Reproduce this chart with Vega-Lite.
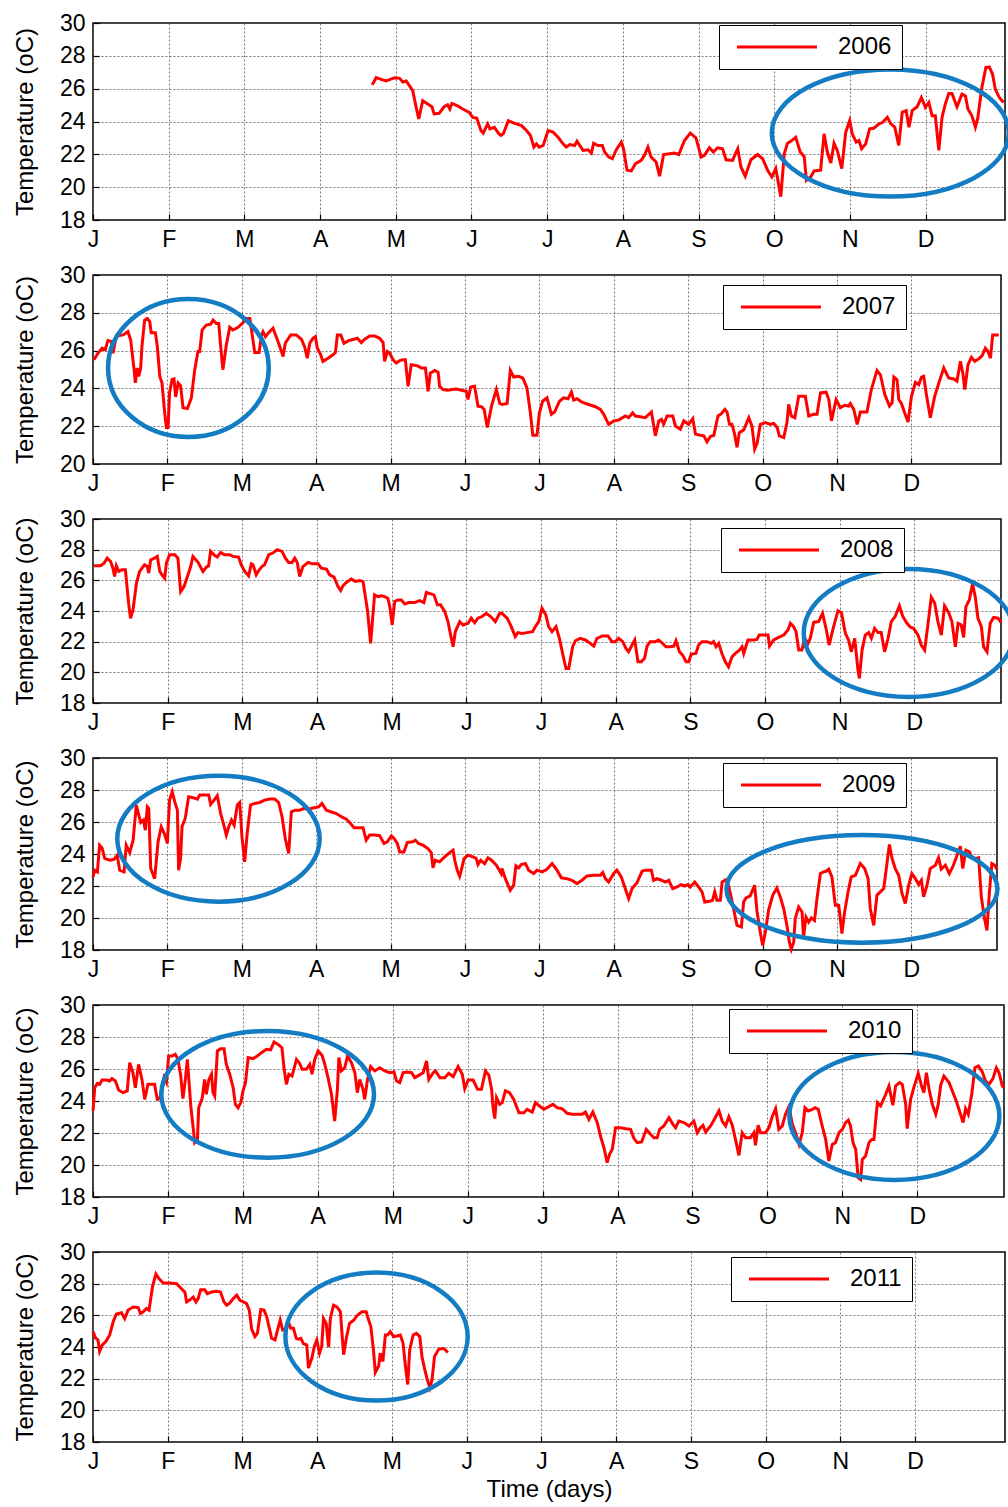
{
"$schema": "https://vega.github.io/schema/vega-lite/v6.json",
"padding": {"left": 12, "top": 11, "right": 0, "bottom": 0},
"background": "white",
"config": {
  "font": "Liberation Sans",
  "view": {"stroke": "black", "strokeWidth": 1.5},
  "axis": {"grid": true, "gridColor": "#555", "gridDash": [2, 2], "gridWidth": 0.8, "domain": false, "tickColor": "black", "tickSize": -6, "tickWidth": 1.2, "labelColor": "black", "labelFont": "Liberation Sans", "labelFontSize": 23, "titleFont": "Liberation Sans", "titleFontSize": 24, "titleFontWeight": "normal", "titleColor": "black", "labelOverlap": false, "labelBound": false, "labelFlush": false},
  "axisX": {"labelPadding": 14},
  "axisY": {"labelPadding": 14, "titlePadding": 22},
  "legend": {"symbolType": "M-4,0H4", "symbolSize": 400, "symbolStrokeWidth": 3, "labelFont": "Liberation Sans", "labelFontSize": 24, "labelColor": "black", "padding": 10, "strokeColor": "black", "fillColor": "white", "symbolOffset": 36, "labelOffset": 49, "title": null}
},
"datasets": {
"d2006": [{"day":112.2,"temp":26.23},{"day":113.8,"temp":26.67},{"day":115.8,"temp":26.57},{"day":117.8,"temp":26.47},{"day":121.2,"temp":26.67},{"day":123.2,"temp":26.63},{"day":124.5,"temp":26.41},{"day":125.9,"temp":26.47},{"day":127.2,"temp":26.17},{"day":128.5,"temp":25.87},{"day":129.6,"temp":25.06},{"day":130.9,"temp":24.15},{"day":132.5,"temp":25.26},{"day":134.5,"temp":25.06},{"day":136.2,"temp":24.9},{"day":137.1,"temp":24.46},{"day":139.1,"temp":24.5},{"day":141.1,"temp":24.9},{"day":142.5,"temp":25.02},{"day":143.4,"temp":24.76},{"day":144.2,"temp":25.1},{"day":146.5,"temp":24.96},{"day":148.6,"temp":24.76},{"day":151.2,"temp":24.56},{"day":152.6,"temp":24.25},{"day":154.2,"temp":24.21},{"day":155.9,"temp":23.45},{"day":156.8,"temp":23.29},{"day":158.6,"temp":23.85},{"day":159.5,"temp":23.55},{"day":161.3,"temp":23.65},{"day":162.9,"temp":23.29},{"day":163.9,"temp":23.15},{"day":164.9,"temp":23.25},{"day":166.9,"temp":24.05},{"day":169.5,"temp":23.89},{"day":172.2,"temp":23.75},{"day":174.2,"temp":23.45},{"day":175.8,"temp":23.15},{"day":177.2,"temp":22.44},{"day":178.2,"temp":22.64},{"day":179.3,"temp":22.44},{"day":180.9,"temp":22.54},{"day":182.9,"temp":23.45},{"day":184.9,"temp":23.35},{"day":186.9,"temp":23.04},{"day":188.9,"temp":22.64},{"day":190.2,"temp":22.44},{"day":191.6,"temp":22.6},{"day":193.6,"temp":22.54},{"day":194.5,"temp":22.8},{"day":196.9,"temp":22.24},{"day":198.9,"temp":22.28},{"day":200.3,"temp":22.08},{"day":201.2,"temp":22.68},{"day":202.9,"temp":22.54},{"day":204.7,"temp":22.54},{"day":205.6,"temp":22.14},{"day":207.3,"temp":21.83},{"day":208.7,"temp":21.73},{"day":210.3,"temp":22.28},{"day":212.3,"temp":22.74},{"day":213.2,"temp":22.34},{"day":214.6,"temp":21.03},{"day":216.3,"temp":20.99},{"day":218.0,"temp":21.43},{"day":220.3,"temp":21.63},{"day":221.6,"temp":21.94},{"day":223.0,"temp":22.44},{"day":224.3,"temp":21.83},{"day":226.3,"temp":21.53},{"day":227.7,"temp":20.67},{"day":229.3,"temp":21.99},{"day":231.7,"temp":22.04},{"day":233.7,"temp":22.08},{"day":235.4,"temp":21.99},{"day":237.7,"temp":22.84},{"day":240.0,"temp":23.29},{"day":242.3,"temp":23.0},{"day":244.4,"temp":21.83},{"day":245.7,"temp":21.94},{"day":247.7,"temp":22.4},{"day":249.3,"temp":22.14},{"day":251.0,"temp":22.4},{"day":253.0,"temp":22.34},{"day":254.4,"temp":21.67},{"day":257.0,"temp":21.63},{"day":259.1,"temp":22.34},{"day":260.4,"temp":21.23},{"day":262.1,"temp":20.67},{"day":264.4,"temp":21.67},{"day":267.1,"temp":21.99},{"day":269.1,"temp":21.73},{"day":271.1,"temp":21.03},{"day":272.8,"temp":20.62},{"day":274.4,"temp":21.13},{"day":276.4,"temp":19.42},{"day":277.8,"temp":22.04},{"day":279.1,"temp":22.68},{"day":280.8,"temp":22.84},{"day":282.4,"temp":23.04},{"day":284.2,"temp":22.14},{"day":285.8,"temp":21.87},{"day":286.7,"temp":20.42},{"day":288.4,"temp":20.62},{"day":289.8,"temp":20.99},{"day":292.4,"temp":21.03},{"day":293.8,"temp":23.25},{"day":295.1,"temp":22.14},{"day":296.5,"temp":21.47},{"day":297.8,"temp":22.68},{"day":299.1,"temp":22.24},{"day":300.9,"temp":21.13},{"day":302.5,"temp":23.35},{"day":304.1,"temp":24.05},{"day":305.1,"temp":23.25},{"day":306.7,"temp":22.74},{"day":307.8,"temp":22.84},{"day":308.9,"temp":22.34},{"day":310.5,"temp":22.64},{"day":312.1,"temp":23.55},{"day":313.8,"temp":23.59},{"day":315.8,"temp":23.85},{"day":317.4,"temp":23.95},{"day":319.2,"temp":24.25},{"day":320.5,"temp":23.89},{"day":322.2,"temp":23.65},{"day":323.8,"temp":22.54},{"day":325.2,"temp":24.56},{"day":326.8,"temp":24.66},{"day":327.9,"temp":23.65},{"day":329.2,"temp":24.66},{"day":331.2,"temp":24.9},{"day":332.9,"temp":25.46},{"day":334.5,"temp":24.86},{"day":335.9,"temp":25.16},{"day":337.2,"temp":24.35},{"day":338.5,"temp":24.35},{"day":339.9,"temp":22.24},{"day":341.2,"temp":24.25},{"day":342.5,"temp":25.06},{"day":343.9,"temp":25.71},{"day":345.2,"temp":25.71},{"day":347.2,"temp":24.9},{"day":349.2,"temp":25.67},{"day":350.6,"temp":25.56},{"day":351.6,"temp":24.76},{"day":353.2,"temp":24.35},{"day":354.6,"temp":23.65},{"day":355.6,"temp":24.25},{"day":357.2,"temp":26.07},{"day":358.8,"temp":27.28},{"day":360.2,"temp":27.32},{"day":361.5,"temp":26.88},{"day":362.6,"temp":25.97},{"day":364.2,"temp":25.46},{"day":365.9,"temp":25.16}],
"d2007": [{"day":0.4,"temp":25.51},{"day":2.0,"temp":25.86},{"day":3.7,"temp":26.13},{"day":5.0,"temp":26.04},{"day":6.1,"temp":26.53},{"day":7.5,"temp":26.48},{"day":8.2,"temp":25.86},{"day":9.5,"temp":26.77},{"day":12.3,"temp":26.83},{"day":14.3,"temp":27.0},{"day":15.4,"temp":26.56},{"day":16.8,"temp":24.99},{"day":17.3,"temp":24.29},{"day":18.1,"temp":25.08},{"day":18.7,"temp":24.64},{"day":19.5,"temp":25.08},{"day":20.0,"temp":26.21},{"day":21.1,"temp":27.61},{"day":22.2,"temp":27.7},{"day":23.2,"temp":27.53},{"day":23.8,"temp":26.95},{"day":25.5,"temp":26.95},{"day":26.3,"temp":26.21},{"day":27.3,"temp":24.64},{"day":28.2,"temp":24.29},{"day":29.3,"temp":22.71},{"day":30.0,"temp":21.93},{"day":30.7,"temp":21.93},{"day":31.3,"temp":23.77},{"day":32.3,"temp":24.46},{"day":33.1,"temp":24.5},{"day":33.8,"temp":23.55},{"day":34.8,"temp":24.29},{"day":35.8,"temp":24.15},{"day":36.8,"temp":22.98},{"day":38.6,"temp":22.93},{"day":40.2,"temp":23.5},{"day":41.6,"temp":24.99},{"day":42.9,"temp":25.95},{"day":43.6,"temp":25.95},{"day":44.6,"temp":27.09},{"day":46.3,"temp":27.35},{"day":48.1,"temp":27.4},{"day":49.1,"temp":27.61},{"day":50.4,"temp":27.44},{"day":51.4,"temp":27.44},{"day":52.2,"temp":26.21},{"day":53.1,"temp":24.99},{"day":54.5,"temp":26.3},{"day":55.9,"temp":27.23},{"day":57.2,"temp":27.09},{"day":59.3,"temp":27.23},{"day":61.3,"temp":27.47},{"day":62.7,"temp":27.7},{"day":64.1,"temp":27.7},{"day":65.1,"temp":26.83},{"day":66.1,"temp":25.9},{"day":67.9,"temp":25.9},{"day":68.8,"temp":26.77},{"day":69.5,"temp":27.0},{"day":70.5,"temp":26.74},{"day":71.8,"temp":26.95},{"day":73.6,"temp":27.18},{"day":75.4,"temp":26.56},{"day":76.8,"temp":26.04},{"day":77.7,"temp":25.69},{"day":78.6,"temp":26.39},{"day":80.8,"temp":26.83},{"day":83.1,"temp":26.83},{"day":85.2,"temp":26.6},{"day":86.5,"temp":26.21},{"day":87.6,"temp":25.6},{"day":88.6,"temp":26.39},{"day":89.9,"temp":26.65},{"day":90.9,"temp":26.74},{"day":91.7,"temp":26.13},{"day":93.1,"temp":25.78},{"day":94.0,"temp":25.43},{"day":96.1,"temp":25.6},{"day":98.1,"temp":25.78},{"day":99.1,"temp":25.9},{"day":99.9,"temp":26.83},{"day":101.3,"temp":26.83},{"day":102.6,"temp":26.39},{"day":104.5,"temp":26.53},{"day":106.7,"temp":26.6},{"day":108.1,"temp":26.65},{"day":109.7,"temp":26.42},{"day":111.1,"temp":26.6},{"day":113.1,"temp":26.77},{"day":115.2,"temp":26.77},{"day":117.2,"temp":26.65},{"day":118.6,"temp":26.42},{"day":119.2,"temp":25.43},{"day":120.3,"temp":25.95},{"day":121.3,"temp":25.86},{"day":122.7,"temp":25.51},{"day":124.0,"temp":25.34},{"day":125.4,"temp":25.47},{"day":126.7,"temp":25.51},{"day":127.7,"temp":25.51},{"day":128.8,"temp":24.11},{"day":130.1,"temp":25.25},{"day":132.6,"temp":25.2},{"day":134.2,"temp":25.08},{"day":135.9,"temp":25.08},{"day":137.0,"temp":23.85},{"day":137.9,"temp":24.81},{"day":139.7,"temp":24.95},{"day":141.1,"temp":24.85},{"day":141.7,"temp":24.11},{"day":143.1,"temp":23.94},{"day":145.1,"temp":23.9},{"day":146.8,"temp":23.94},{"day":148.5,"temp":23.97},{"day":150.6,"temp":23.9},{"day":152.6,"temp":23.85},{"day":153.3,"temp":23.41},{"day":154.4,"temp":24.07},{"day":156.0,"temp":24.11},{"day":157.4,"temp":23.06},{"day":158.8,"temp":23.03},{"day":159.9,"temp":22.89},{"day":161.2,"temp":21.93},{"day":162.9,"temp":23.06},{"day":164.9,"temp":23.94},{"day":166.3,"temp":23.2},{"day":167.2,"temp":23.15},{"day":169.3,"temp":23.2},{"day":170.6,"temp":24.95},{"day":172.0,"temp":24.6},{"day":174.0,"temp":24.64},{"day":175.7,"temp":24.55},{"day":177.4,"temp":24.03},{"day":178.8,"temp":22.71},{"day":179.8,"temp":21.52},{"day":181.5,"temp":21.52},{"day":182.5,"temp":22.71},{"day":183.8,"temp":23.32},{"day":185.6,"temp":23.5},{"day":187.4,"temp":22.63},{"day":188.7,"temp":22.75},{"day":190.7,"temp":23.32},{"day":192.4,"temp":23.5},{"day":194.2,"temp":23.45},{"day":195.6,"temp":23.8},{"day":196.5,"temp":23.38},{"day":197.9,"temp":23.45},{"day":199.9,"temp":23.27},{"day":202.6,"temp":23.15},{"day":205.4,"temp":23.03},{"day":207.4,"temp":22.89},{"day":208.8,"temp":22.63},{"day":210.8,"temp":22.1},{"day":212.9,"temp":22.28},{"day":214.9,"temp":22.33},{"day":217.6,"temp":22.54},{"day":219.0,"temp":22.45},{"day":220.6,"temp":22.71},{"day":221.7,"temp":22.54},{"day":223.8,"temp":22.5},{"day":225.8,"temp":22.45},{"day":228.3,"temp":22.75},{"day":229.9,"temp":21.49},{"day":231.3,"temp":22.28},{"day":232.4,"temp":22.36},{"day":233.3,"temp":22.1},{"day":234.7,"temp":22.54},{"day":237.0,"temp":22.54},{"day":238.1,"temp":22.01},{"day":240.1,"temp":21.84},{"day":241.5,"temp":22.28},{"day":243.5,"temp":22.1},{"day":245.2,"temp":22.4},{"day":246.3,"temp":21.58},{"day":248.3,"temp":21.52},{"day":249.7,"temp":21.49},{"day":251.0,"temp":21.17},{"day":252.4,"temp":21.45},{"day":253.8,"temp":21.52},{"day":255.5,"temp":22.54},{"day":256.9,"temp":22.66},{"day":258.3,"temp":22.89},{"day":259.2,"temp":22.75},{"day":260.2,"temp":22.1},{"day":261.2,"temp":22.1},{"day":262.3,"temp":21.58},{"day":263.3,"temp":20.88},{"day":264.2,"temp":21.66},{"day":266.0,"temp":21.8},{"day":268.1,"temp":22.45},{"day":269.4,"temp":22.01},{"day":270.5,"temp":20.79},{"day":271.5,"temp":21.1},{"day":272.8,"temp":22.1},{"day":274.9,"temp":22.19},{"day":276.9,"temp":22.1},{"day":278.3,"temp":22.15},{"day":279.7,"temp":21.93},{"day":280.6,"temp":21.49},{"day":282.4,"temp":21.4},{"day":283.7,"temp":22.19},{"day":284.4,"temp":23.15},{"day":285.5,"temp":22.54},{"day":286.9,"temp":22.45},{"day":288.5,"temp":23.58},{"day":291.2,"temp":23.58},{"day":292.6,"temp":22.54},{"day":294.6,"temp":22.63},{"day":296.0,"temp":22.63},{"day":297.4,"temp":23.76},{"day":299.7,"temp":23.8},{"day":300.8,"temp":23.41},{"day":301.9,"temp":22.28},{"day":303.8,"temp":23.41},{"day":305.5,"temp":22.98},{"day":307.3,"temp":23.11},{"day":308.9,"temp":23.06},{"day":309.6,"temp":23.2},{"day":311.0,"temp":22.89},{"day":312.4,"temp":22.1},{"day":313.7,"temp":22.75},{"day":316.4,"temp":22.75},{"day":318.2,"temp":23.94},{"day":320.5,"temp":24.95},{"day":321.9,"temp":24.72},{"day":323.7,"temp":23.67},{"day":325.6,"temp":23.06},{"day":326.7,"temp":23.24},{"day":327.4,"temp":24.6},{"day":328.7,"temp":24.46},{"day":329.4,"temp":23.41},{"day":330.5,"temp":23.2},{"day":331.8,"temp":22.71},{"day":333.2,"temp":22.22},{"day":334.6,"temp":23.58},{"day":336.2,"temp":24.32},{"day":337.6,"temp":24.2},{"day":338.7,"temp":24.6},{"day":339.6,"temp":24.64},{"day":340.6,"temp":23.76},{"day":342.3,"temp":22.45},{"day":344.1,"temp":23.58},{"day":345.7,"temp":24.25},{"day":347.8,"temp":25.08},{"day":349.8,"temp":24.55},{"day":351.9,"temp":24.5},{"day":353.2,"temp":24.38},{"day":354.6,"temp":25.43},{"day":355.6,"temp":24.81},{"day":356.4,"temp":23.94},{"day":357.7,"temp":25.25},{"day":359.1,"temp":25.65},{"day":360.5,"temp":25.43},{"day":362.1,"temp":25.56},{"day":363.5,"temp":25.73},{"day":364.8,"temp":26.13},{"day":365.9,"temp":25.95},{"day":366.9,"temp":25.6},{"day":367.8,"temp":26.83},{"day":370.3,"temp":26.83}],
"d2008": [{"day":0.4,"temp":26.95},{"day":3.1,"temp":26.95},{"day":4.5,"temp":27.12},{"day":5.8,"temp":27.45},{"day":7.2,"temp":27.23},{"day":8.1,"temp":26.79},{"day":8.8,"temp":26.25},{"day":9.5,"temp":26.95},{"day":10.5,"temp":26.58},{"day":11.8,"temp":26.69},{"day":13.2,"temp":26.69},{"day":14.5,"temp":24.51},{"day":15.3,"temp":23.53},{"day":16.3,"temp":24.07},{"day":17.7,"temp":25.82},{"day":19.0,"temp":26.58},{"day":21.0,"temp":27.01},{"day":22.1,"temp":26.9},{"day":22.7,"temp":26.47},{"day":23.5,"temp":27.34},{"day":25.1,"temp":27.45},{"day":26.2,"temp":27.56},{"day":27.2,"temp":26.58},{"day":28.1,"temp":26.36},{"day":29.2,"temp":26.14},{"day":29.9,"temp":27.12},{"day":31.2,"temp":27.67},{"day":33.3,"temp":27.67},{"day":34.6,"temp":27.45},{"day":35.7,"temp":25.27},{"day":37.1,"temp":25.6},{"day":38.7,"temp":26.36},{"day":39.8,"temp":26.9},{"day":40.7,"temp":27.56},{"day":42.8,"temp":27.17},{"day":44.8,"temp":26.58},{"day":46.2,"temp":26.86},{"day":47.1,"temp":26.95},{"day":47.9,"temp":27.89},{"day":49.6,"temp":27.61},{"day":50.6,"temp":27.52},{"day":52.0,"temp":27.82},{"day":53.6,"temp":27.67},{"day":55.7,"temp":27.67},{"day":57.0,"temp":27.56},{"day":59.3,"temp":27.52},{"day":60.4,"temp":27.01},{"day":61.8,"temp":26.58},{"day":63.4,"temp":26.29},{"day":64.5,"temp":27.08},{"day":65.2,"temp":27.01},{"day":66.5,"temp":26.36},{"day":67.5,"temp":26.64},{"day":68.8,"temp":26.9},{"day":69.9,"temp":27.01},{"day":71.6,"temp":27.67},{"day":73.3,"temp":27.78},{"day":75.1,"temp":28.0},{"day":77.0,"temp":27.89},{"day":78.4,"temp":27.45},{"day":79.7,"temp":27.17},{"day":81.1,"temp":27.17},{"day":82.2,"temp":27.45},{"day":83.2,"temp":27.17},{"day":84.2,"temp":26.25},{"day":85.5,"temp":26.9},{"day":87.6,"temp":27.17},{"day":89.2,"temp":27.08},{"day":91.7,"temp":27.08},{"day":93.0,"temp":26.79},{"day":95.1,"temp":26.73},{"day":96.4,"temp":26.36},{"day":98.2,"temp":26.21},{"day":99.8,"temp":25.6},{"day":100.9,"temp":25.34},{"day":101.8,"temp":25.64},{"day":103.2,"temp":25.86},{"day":105.2,"temp":26.08},{"day":106.9,"temp":25.93},{"day":108.6,"temp":25.99},{"day":110.0,"temp":25.93},{"day":111.8,"temp":24.07},{"day":113.1,"temp":21.89},{"day":114.7,"temp":25.05},{"day":116.1,"temp":24.94},{"day":117.5,"temp":24.99},{"day":118.8,"temp":24.94},{"day":120.1,"temp":24.83},{"day":120.9,"temp":24.29},{"day":121.9,"temp":23.09},{"day":122.9,"temp":24.62},{"day":124.2,"temp":24.72},{"day":125.6,"temp":24.72},{"day":127.0,"temp":24.46},{"day":128.6,"temp":24.55},{"day":131.0,"temp":24.55},{"day":133.1,"temp":24.68},{"day":134.8,"temp":24.55},{"day":135.8,"temp":25.21},{"day":137.6,"temp":25.12},{"day":138.9,"temp":25.05},{"day":140.3,"temp":24.4},{"day":141.6,"temp":24.4},{"day":143.3,"temp":23.96},{"day":144.6,"temp":23.31},{"day":145.7,"temp":22.43},{"day":146.7,"temp":21.67},{"day":147.6,"temp":22.65},{"day":149.4,"temp":23.31},{"day":150.7,"temp":23.09},{"day":152.8,"temp":23.2},{"day":154.1,"temp":23.53},{"day":155.5,"temp":23.23},{"day":156.8,"temp":23.53},{"day":158.5,"temp":23.64},{"day":160.2,"temp":23.85},{"day":162.0,"temp":23.64},{"day":163.9,"temp":23.31},{"day":165.7,"temp":23.85},{"day":166.6,"temp":23.85},{"day":168.7,"temp":23.53},{"day":170.4,"temp":22.98},{"day":172.0,"temp":22.33},{"day":173.1,"temp":22.59},{"day":174.8,"temp":22.54},{"day":176.8,"temp":22.59},{"day":179.1,"temp":22.65},{"day":180.2,"temp":22.98},{"day":181.6,"temp":23.31},{"day":182.9,"temp":24.18},{"day":184.5,"temp":23.74},{"day":185.6,"temp":22.98},{"day":187.0,"temp":22.65},{"day":188.6,"temp":22.98},{"day":190.0,"temp":22.22},{"day":191.3,"temp":21.23},{"day":192.7,"temp":20.25},{"day":193.8,"temp":20.25},{"day":195.4,"temp":21.67},{"day":196.5,"temp":22.06},{"day":198.5,"temp":22.22},{"day":200.6,"temp":22.11},{"day":202.6,"temp":21.89},{"day":204.0,"temp":21.71},{"day":205.3,"temp":22.22},{"day":207.4,"temp":22.37},{"day":209.8,"temp":22.37},{"day":211.4,"temp":22.0},{"day":212.8,"temp":22.0},{"day":214.1,"temp":22.22},{"day":215.8,"temp":22.0},{"day":217.1,"temp":21.56},{"day":218.2,"temp":21.34},{"day":219.6,"temp":21.78},{"day":220.7,"temp":22.11},{"day":222.0,"temp":20.69},{"day":223.4,"temp":20.69},{"day":224.7,"temp":20.91},{"day":225.7,"temp":21.71},{"day":227.0,"temp":22.0},{"day":229.1,"temp":22.0},{"day":230.4,"temp":22.11},{"day":231.8,"temp":21.93},{"day":233.4,"temp":21.67},{"day":235.2,"temp":21.67},{"day":236.6,"temp":21.71},{"day":237.5,"temp":22.06},{"day":238.9,"temp":21.34},{"day":240.2,"temp":21.12},{"day":241.6,"temp":20.69},{"day":242.7,"temp":20.69},{"day":243.7,"temp":21.19},{"day":245.6,"temp":21.23},{"day":246.7,"temp":21.78},{"day":248.1,"temp":22.0},{"day":250.1,"temp":22.0},{"day":251.9,"temp":21.89},{"day":252.8,"temp":22.0},{"day":253.8,"temp":21.67},{"day":254.9,"temp":21.89},{"day":256.2,"temp":21.23},{"day":257.6,"temp":20.69},{"day":258.9,"temp":20.36},{"day":260.3,"temp":21.01},{"day":261.7,"temp":21.23},{"day":263.3,"temp":21.45},{"day":264.4,"temp":21.67},{"day":265.1,"temp":21.23},{"day":266.8,"temp":22.11},{"day":269.1,"temp":22.11},{"day":270.5,"temp":22.15},{"day":271.4,"temp":22.43},{"day":273.9,"temp":22.43},{"day":275.0,"temp":22.43},{"day":275.6,"temp":21.71},{"day":277.3,"temp":22.11},{"day":279.3,"temp":22.28},{"day":281.4,"temp":22.43},{"day":283.1,"temp":22.76},{"day":284.1,"temp":23.2},{"day":285.4,"temp":22.98},{"day":286.4,"temp":22.65},{"day":287.5,"temp":21.45},{"day":288.8,"temp":21.45},{"day":289.9,"temp":22.22},{"day":291.3,"temp":21.89},{"day":292.2,"temp":22.22},{"day":293.6,"temp":23.26},{"day":295.6,"temp":23.31},{"day":297.2,"temp":23.85},{"day":298.6,"temp":22.87},{"day":299.9,"temp":21.78},{"day":301.7,"temp":22.98},{"day":303.5,"temp":24.02},{"day":304.9,"temp":23.89},{"day":306.5,"temp":22.54},{"day":307.8,"temp":22.11},{"day":308.9,"temp":21.34},{"day":310.3,"temp":22.22},{"day":311.6,"temp":20.19},{"day":312.2,"temp":19.6},{"day":313.3,"temp":21.45},{"day":314.6,"temp":22.43},{"day":316.0,"temp":22.59},{"day":317.1,"temp":22.22},{"day":318.4,"temp":22.87},{"day":319.8,"temp":22.59},{"day":321.1,"temp":22.59},{"day":322.5,"temp":21.34},{"day":323.9,"temp":22.22},{"day":325.2,"temp":23.31},{"day":326.8,"temp":23.64},{"day":328.5,"temp":24.34},{"day":329.8,"temp":23.68},{"day":331.6,"temp":23.2},{"day":333.0,"temp":22.94},{"day":334.3,"temp":22.87},{"day":336.1,"temp":22.43},{"day":337.4,"temp":21.78},{"day":338.8,"temp":21.45},{"day":340.2,"temp":23.2},{"day":341.5,"temp":24.9},{"day":342.9,"temp":24.51},{"day":344.2,"temp":23.31},{"day":345.6,"temp":22.43},{"day":346.9,"temp":24.34},{"day":348.6,"temp":23.89},{"day":349.9,"temp":23.31},{"day":351.3,"temp":21.67},{"day":352.4,"temp":23.2},{"day":353.7,"temp":23.09},{"day":354.7,"temp":22.28},{"day":355.6,"temp":24.29},{"day":357.0,"temp":24.72},{"day":358.3,"temp":25.77},{"day":359.4,"temp":24.94},{"day":360.5,"temp":23.53},{"day":361.9,"temp":22.98},{"day":362.8,"temp":21.67},{"day":364.2,"temp":21.34},{"day":365.5,"temp":23.2},{"day":366.9,"temp":23.58},{"day":368.7,"temp":23.53},{"day":369.9,"temp":23.26}],
"d2009": [{"day":0.0,"temp":22.57},{"day":0.7,"temp":22.99},{"day":1.8,"temp":22.88},{"day":2.7,"temp":24.55},{"day":3.7,"temp":24.38},{"day":4.8,"temp":23.72},{"day":6.8,"temp":23.61},{"day":8.6,"temp":23.67},{"day":9.9,"temp":23.92},{"day":10.9,"temp":22.99},{"day":12.7,"temp":22.88},{"day":13.6,"temp":24.55},{"day":15.0,"temp":24.09},{"day":16.4,"temp":24.86},{"day":17.7,"temp":27.06},{"day":18.4,"temp":26.64},{"day":19.5,"temp":25.97},{"day":20.6,"temp":26.12},{"day":21.4,"temp":25.49},{"day":22.2,"temp":26.95},{"day":22.8,"temp":26.85},{"day":23.6,"temp":23.09},{"day":25.2,"temp":22.46},{"day":26.6,"temp":24.76},{"day":27.9,"temp":25.7},{"day":29.3,"temp":25.22},{"day":30.4,"temp":24.66},{"day":31.3,"temp":27.37},{"day":32.4,"temp":27.89},{"day":33.4,"temp":27.27},{"day":34.5,"temp":26.74},{"day":35.0,"temp":22.99},{"day":35.8,"temp":23.72},{"day":36.4,"temp":25.7},{"day":37.7,"temp":26.22},{"day":39.1,"temp":27.58},{"day":40.9,"temp":27.52},{"day":42.7,"temp":27.43},{"day":43.6,"temp":27.68},{"day":45.9,"temp":27.68},{"day":47.3,"temp":27.68},{"day":48.1,"temp":27.1},{"day":49.5,"temp":27.37},{"day":50.8,"temp":27.64},{"day":52.2,"temp":26.53},{"day":53.5,"temp":25.8},{"day":54.5,"temp":25.18},{"day":55.5,"temp":25.7},{"day":56.6,"temp":26.12},{"day":57.7,"temp":25.8},{"day":59.0,"temp":27.06},{"day":60.0,"temp":27.22},{"day":60.9,"temp":25.07},{"day":62.0,"temp":23.51},{"day":63.1,"temp":25.39},{"day":64.4,"temp":27.06},{"day":66.1,"temp":27.16},{"day":68.1,"temp":27.22},{"day":70.2,"temp":27.37},{"day":72.2,"temp":27.43},{"day":74.3,"temp":27.43},{"day":75.9,"temp":27.22},{"day":77.3,"temp":26.33},{"day":78.6,"temp":24.97},{"day":80.0,"temp":24.03},{"day":81.1,"temp":26.64},{"day":82.7,"temp":26.74},{"day":84.5,"temp":26.74},{"day":86.3,"temp":26.85},{"day":88.2,"temp":26.81},{"day":90.4,"temp":26.89},{"day":92.3,"temp":26.95},{"day":93.6,"temp":27.16},{"day":95.4,"temp":26.74},{"day":97.2,"temp":26.64},{"day":99.5,"temp":26.53},{"day":101.5,"temp":26.33},{"day":103.6,"temp":26.18},{"day":105.3,"temp":25.91},{"day":106.7,"temp":25.64},{"day":108.3,"temp":25.64},{"day":110.4,"temp":25.64},{"day":111.7,"temp":24.86},{"day":113.1,"temp":25.18},{"day":115.2,"temp":25.18},{"day":117.2,"temp":25.14},{"day":119.0,"temp":24.66},{"day":120.3,"temp":24.76},{"day":122.0,"temp":25.14},{"day":123.3,"temp":24.93},{"day":124.4,"temp":24.66},{"day":125.4,"temp":24.13},{"day":127.1,"temp":24.13},{"day":128.5,"temp":24.72},{"day":130.8,"temp":24.76},{"day":131.8,"temp":24.86},{"day":133.1,"temp":24.66},{"day":134.9,"temp":24.55},{"day":136.9,"temp":24.34},{"day":138.3,"temp":24.09},{"day":139.0,"temp":23.13},{"day":139.9,"temp":23.61},{"day":141.7,"temp":23.51},{"day":143.8,"temp":23.82},{"day":145.8,"temp":24.09},{"day":147.2,"temp":24.24},{"day":147.9,"temp":23.61},{"day":148.9,"temp":22.99},{"day":149.9,"temp":22.61},{"day":150.6,"temp":22.99},{"day":151.7,"temp":23.72},{"day":153.3,"temp":23.92},{"day":155.4,"temp":23.82},{"day":156.7,"temp":23.72},{"day":157.4,"temp":23.34},{"day":158.5,"temp":23.61},{"day":160.1,"temp":23.4},{"day":161.5,"temp":23.76},{"day":162.9,"temp":23.61},{"day":164.9,"temp":23.3},{"day":166.9,"temp":22.78},{"day":167.2,"temp":23.09},{"day":168.6,"temp":22.46},{"day":170.6,"temp":21.73},{"day":172.0,"temp":22.05},{"day":172.9,"temp":23.26},{"day":174.0,"temp":23.13},{"day":175.1,"temp":23.34},{"day":176.8,"temp":23.4},{"day":178.1,"temp":22.99},{"day":180.2,"temp":22.78},{"day":181.5,"temp":22.99},{"day":183.6,"temp":22.88},{"day":185.6,"temp":23.05},{"day":187.7,"temp":23.4},{"day":189.7,"temp":22.99},{"day":191.5,"temp":22.51},{"day":193.8,"temp":22.46},{"day":195.8,"temp":22.36},{"day":197.9,"temp":22.15},{"day":199.9,"temp":22.36},{"day":202.0,"temp":22.63},{"day":204.7,"temp":22.67},{"day":207.4,"temp":22.67},{"day":208.4,"temp":22.84},{"day":209.5,"temp":22.46},{"day":210.8,"temp":22.25},{"day":212.9,"temp":22.78},{"day":214.2,"temp":22.99},{"day":216.0,"temp":22.57},{"day":217.6,"temp":21.84},{"day":219.0,"temp":21.21},{"day":220.4,"temp":21.84},{"day":222.4,"temp":22.21},{"day":224.5,"temp":22.92},{"day":225.8,"temp":22.99},{"day":228.3,"temp":22.99},{"day":229.2,"temp":22.36},{"day":230.6,"temp":22.46},{"day":232.4,"temp":22.36},{"day":234.0,"temp":22.25},{"day":235.4,"temp":22.36},{"day":237.0,"temp":21.84},{"day":238.8,"temp":21.94},{"day":240.5,"temp":22.09},{"day":241.9,"temp":22.0},{"day":243.3,"temp":22.09},{"day":244.2,"temp":21.94},{"day":246.0,"temp":22.25},{"day":247.6,"temp":21.94},{"day":249.0,"temp":21.63},{"day":250.1,"temp":21.0},{"day":252.0,"temp":21.04},{"day":253.3,"temp":21.11},{"day":254.2,"temp":21.63},{"day":255.1,"temp":21.11},{"day":256.5,"temp":21.11},{"day":257.2,"temp":22.25},{"day":258.3,"temp":22.36},{"day":259.2,"temp":22.42},{"day":260.6,"temp":21.52},{"day":261.9,"temp":20.58},{"day":263.3,"temp":19.54},{"day":265.1,"temp":19.44},{"day":266.0,"temp":21.0},{"day":267.0,"temp":21.25},{"day":268.7,"temp":21.38},{"day":270.5,"temp":22.05},{"day":271.5,"temp":20.38},{"day":272.8,"temp":19.12},{"day":273.8,"temp":18.29},{"day":274.9,"temp":19.12},{"day":276.2,"temp":20.48},{"day":277.9,"temp":21.42},{"day":279.6,"temp":21.88},{"day":281.0,"temp":21.32},{"day":282.4,"temp":20.58},{"day":283.7,"temp":19.54},{"day":284.7,"temp":18.5},{"day":285.5,"temp":18.04},{"day":286.5,"temp":18.5},{"day":287.1,"temp":19.96},{"day":288.5,"temp":20.69},{"day":289.9,"temp":20.38},{"day":290.5,"temp":18.81},{"day":291.5,"temp":20.06},{"day":292.6,"temp":19.75},{"day":293.7,"temp":20.0},{"day":295.0,"temp":19.85},{"day":296.0,"temp":21.21},{"day":297.4,"temp":22.78},{"day":298.7,"temp":22.88},{"day":299.7,"temp":22.92},{"day":300.8,"temp":23.05},{"day":302.1,"temp":22.57},{"day":303.5,"temp":20.79},{"day":304.9,"temp":20.79},{"day":306.2,"temp":19.02},{"day":307.3,"temp":20.38},{"day":308.7,"temp":21.63},{"day":310.0,"temp":22.57},{"day":311.7,"temp":22.67},{"day":313.7,"temp":23.4},{"day":315.5,"temp":23.09},{"day":316.9,"temp":22.46},{"day":317.8,"temp":20.58},{"day":319.2,"temp":19.54},{"day":320.5,"temp":21.42},{"day":321.9,"temp":21.63},{"day":323.3,"temp":21.84},{"day":324.6,"temp":23.4},{"day":325.6,"temp":24.59},{"day":326.7,"temp":23.72},{"day":328.0,"temp":23.09},{"day":329.4,"temp":22.67},{"day":330.8,"temp":21.52},{"day":332.1,"temp":20.9},{"day":333.5,"temp":22.05},{"day":334.8,"temp":22.78},{"day":336.2,"temp":22.46},{"day":337.6,"temp":22.09},{"day":338.7,"temp":22.36},{"day":339.6,"temp":21.32},{"day":341.0,"temp":22.05},{"day":342.3,"temp":23.09},{"day":344.4,"temp":23.3},{"day":345.7,"temp":23.76},{"day":346.8,"temp":23.05},{"day":348.5,"temp":23.3},{"day":350.1,"temp":22.78},{"day":351.5,"temp":23.19},{"day":352.8,"temp":23.72},{"day":354.6,"temp":24.49},{"day":355.6,"temp":23.09},{"day":356.9,"temp":24.24},{"day":358.3,"temp":24.13},{"day":359.4,"temp":23.76},{"day":360.7,"temp":23.72},{"day":362.1,"temp":23.76},{"day":363.2,"temp":21.32},{"day":364.5,"temp":19.96},{"day":365.5,"temp":19.23},{"day":366.5,"temp":21.63},{"day":367.5,"temp":23.4},{"day":368.6,"temp":23.3},{"day":369.6,"temp":23.05}],
"d2010": [{"day":0.0,"temp":23.38},{"day":0.7,"temp":24.83},{"day":1.8,"temp":25.1},{"day":2.7,"temp":25.04},{"day":3.7,"temp":25.31},{"day":5.4,"temp":25.31},{"day":6.8,"temp":25.25},{"day":7.7,"temp":25.4},{"day":9.1,"temp":25.25},{"day":10.4,"temp":24.69},{"day":12.2,"temp":24.52},{"day":13.9,"temp":24.63},{"day":14.9,"temp":26.4},{"day":16.2,"temp":25.77},{"day":17.2,"temp":24.83},{"day":18.5,"temp":26.29},{"day":19.9,"temp":25.31},{"day":21.0,"temp":24.1},{"day":22.3,"temp":25.04},{"day":23.4,"temp":25.04},{"day":25.0,"temp":25.04},{"day":26.1,"temp":24.1},{"day":27.1,"temp":24.15},{"day":27.7,"temp":24.63},{"day":28.8,"temp":25.46},{"day":29.8,"temp":25.15},{"day":30.7,"temp":26.81},{"day":32.1,"temp":26.81},{"day":33.4,"temp":26.92},{"day":34.5,"temp":26.6},{"day":35.6,"temp":25.6},{"day":36.5,"temp":24.15},{"day":37.5,"temp":25.35},{"day":38.3,"temp":26.6},{"day":39.7,"temp":23.69},{"day":41.3,"temp":21.4},{"day":42.4,"temp":21.6},{"day":42.9,"temp":23.58},{"day":44.3,"temp":24.15},{"day":45.3,"temp":25.35},{"day":46.0,"temp":24.42},{"day":47.0,"temp":25.31},{"day":48.1,"temp":25.67},{"day":48.7,"temp":24.52},{"day":49.4,"temp":24.31},{"day":50.5,"temp":27.13},{"day":51.8,"temp":27.27},{"day":53.2,"temp":27.27},{"day":54.1,"temp":26.29},{"day":55.5,"temp":25.67},{"day":56.9,"temp":24.83},{"day":57.8,"temp":23.79},{"day":58.9,"temp":23.58},{"day":60.0,"temp":23.9},{"day":60.9,"temp":24.63},{"day":61.9,"temp":25.15},{"day":63.0,"temp":26.71},{"day":65.0,"temp":26.65},{"day":66.7,"temp":26.81},{"day":68.4,"temp":27.02},{"day":70.4,"temp":27.23},{"day":72.1,"temp":27.19},{"day":73.5,"temp":27.69},{"day":75.1,"temp":27.54},{"day":76.7,"temp":27.33},{"day":77.6,"temp":25.98},{"day":78.5,"temp":25.04},{"day":79.5,"temp":25.67},{"day":80.8,"temp":25.56},{"day":82.6,"temp":26.6},{"day":83.9,"temp":26.35},{"day":84.9,"temp":25.98},{"day":86.6,"temp":25.98},{"day":88.0,"temp":26.29},{"day":88.9,"temp":25.67},{"day":90.0,"temp":26.6},{"day":91.4,"temp":27.13},{"day":93.0,"temp":26.85},{"day":94.1,"temp":26.29},{"day":95.4,"temp":25.46},{"day":96.8,"temp":24.42},{"day":98.1,"temp":22.75},{"day":99.2,"temp":24.69},{"day":99.8,"temp":26.71},{"day":100.8,"temp":25.88},{"day":102.2,"temp":26.08},{"day":103.3,"temp":26.81},{"day":104.9,"temp":26.4},{"day":106.3,"temp":25.77},{"day":107.3,"temp":24.52},{"day":108.3,"temp":25.35},{"day":109.6,"temp":24.73},{"day":110.3,"temp":24.1},{"day":111.4,"temp":25.31},{"day":112.7,"temp":26.15},{"day":114.4,"temp":25.88},{"day":116.4,"temp":26.08},{"day":118.4,"temp":25.88},{"day":120.5,"temp":25.77},{"day":122.2,"temp":25.81},{"day":123.2,"temp":25.25},{"day":124.5,"temp":25.15},{"day":125.9,"temp":25.77},{"day":127.6,"temp":25.81},{"day":129.3,"temp":25.77},{"day":130.6,"temp":25.46},{"day":132.2,"temp":25.6},{"day":134.0,"temp":25.77},{"day":135.4,"temp":26.5},{"day":136.3,"temp":25.35},{"day":138.1,"temp":25.77},{"day":139.0,"temp":25.88},{"day":140.8,"temp":25.46},{"day":142.8,"temp":25.46},{"day":144.4,"temp":25.73},{"day":146.2,"temp":25.52},{"day":148.2,"temp":26.15},{"day":149.9,"temp":25.67},{"day":150.9,"temp":24.77},{"day":152.3,"temp":25.31},{"day":154.3,"temp":25.31},{"day":156.1,"temp":24.73},{"day":157.7,"temp":24.73},{"day":159.3,"temp":25.88},{"day":160.7,"temp":25.6},{"day":161.8,"temp":24.73},{"day":162.4,"temp":23.58},{"day":163.1,"temp":22.9},{"day":163.8,"temp":24.21},{"day":165.1,"temp":23.79},{"day":166.1,"temp":23.9},{"day":167.4,"temp":24.63},{"day":169.1,"temp":24.52},{"day":170.8,"temp":24.1},{"day":172.9,"temp":23.27},{"day":174.9,"temp":23.27},{"day":176.2,"temp":23.48},{"day":178.3,"temp":23.31},{"day":179.6,"temp":23.9},{"day":181.2,"temp":23.69},{"day":183.0,"temp":23.48},{"day":185.0,"temp":23.65},{"day":186.7,"temp":23.79},{"day":188.4,"temp":23.58},{"day":190.4,"temp":23.52},{"day":192.5,"temp":23.23},{"day":194.5,"temp":23.17},{"day":196.5,"temp":23.17},{"day":198.6,"temp":23.17},{"day":199.9,"temp":23.31},{"day":201.3,"temp":22.85},{"day":202.9,"temp":23.31},{"day":204.7,"temp":22.65},{"day":206.0,"temp":21.81},{"day":207.4,"temp":21.08},{"day":208.7,"temp":20.15},{"day":209.7,"temp":20.67},{"day":210.8,"temp":20.98},{"day":212.1,"temp":22.33},{"day":214.1,"temp":22.33},{"day":216.4,"temp":22.27},{"day":218.2,"temp":22.23},{"day":219.6,"temp":21.65},{"day":220.9,"temp":21.4},{"day":222.7,"temp":21.44},{"day":224.6,"temp":22.23},{"day":226.3,"temp":21.92},{"day":227.7,"temp":21.71},{"day":229.0,"temp":21.71},{"day":230.0,"temp":22.23},{"day":231.7,"temp":22.44},{"day":233.8,"temp":22.96},{"day":235.4,"temp":22.54},{"day":236.5,"temp":22.33},{"day":237.8,"temp":22.75},{"day":239.9,"temp":22.65},{"day":241.9,"temp":22.44},{"day":243.9,"temp":22.75},{"day":245.3,"temp":22.02},{"day":246.6,"temp":22.33},{"day":247.6,"temp":22.48},{"day":248.7,"temp":22.06},{"day":250.7,"temp":22.44},{"day":252.4,"temp":22.9},{"day":254.1,"temp":23.38},{"day":255.4,"temp":22.75},{"day":256.8,"temp":22.44},{"day":258.1,"temp":23.02},{"day":259.5,"temp":22.48},{"day":260.8,"temp":21.6},{"day":262.2,"temp":20.6},{"day":263.5,"temp":22.02},{"day":264.9,"temp":21.71},{"day":266.9,"temp":21.71},{"day":268.3,"temp":22.02},{"day":268.9,"temp":21.23},{"day":270.0,"temp":22.48},{"day":271.0,"temp":22.02},{"day":273.0,"temp":22.02},{"day":274.4,"temp":22.33},{"day":275.7,"temp":23.02},{"day":277.1,"temp":23.52},{"day":278.4,"temp":22.23},{"day":279.8,"temp":22.44},{"day":281.1,"temp":23.17},{"day":282.5,"temp":23.65},{"day":283.9,"temp":22.54},{"day":285.2,"temp":22.02},{"day":286.6,"temp":21.29},{"day":287.9,"temp":22.02},{"day":289.0,"temp":23.58},{"day":290.3,"temp":23.38},{"day":292.0,"temp":23.48},{"day":293.1,"temp":23.58},{"day":294.4,"temp":23.48},{"day":296.0,"temp":22.44},{"day":297.4,"temp":21.6},{"day":298.7,"temp":20.25},{"day":300.1,"temp":21.29},{"day":301.4,"temp":21.4},{"day":302.8,"temp":22.02},{"day":304.2,"temp":22.23},{"day":305.5,"temp":22.65},{"day":306.6,"temp":22.81},{"day":307.5,"temp":22.44},{"day":308.5,"temp":21.4},{"day":309.6,"temp":20.98},{"day":310.6,"temp":19.21},{"day":311.6,"temp":19.1},{"day":312.3,"temp":20.35},{"day":313.6,"temp":20.56},{"day":315.0,"temp":21.4},{"day":316.1,"temp":21.6},{"day":317.0,"temp":21.6},{"day":318.4,"temp":23.9},{"day":319.7,"temp":23.69},{"day":321.5,"temp":24.31},{"day":323.1,"temp":24.94},{"day":324.7,"temp":23.73},{"day":325.8,"temp":24.94},{"day":327.4,"temp":25.15},{"day":328.5,"temp":25.04},{"day":329.9,"temp":23.79},{"day":330.5,"temp":22.27},{"day":331.9,"temp":24.1},{"day":333.3,"temp":24.9},{"day":335.0,"temp":25.73},{"day":336.4,"temp":24.9},{"day":337.3,"temp":24.52},{"day":338.3,"temp":25.77},{"day":339.4,"temp":24.73},{"day":340.7,"temp":23.79},{"day":342.1,"temp":23.17},{"day":343.1,"temp":23.79},{"day":344.1,"temp":24.98},{"day":345.4,"temp":25.56},{"day":347.5,"temp":25.15},{"day":349.1,"temp":24.52},{"day":350.2,"temp":24.1},{"day":351.5,"temp":23.48},{"day":353.2,"temp":22.65},{"day":354.2,"temp":23.52},{"day":355.3,"temp":23.17},{"day":356.7,"temp":24.42},{"day":358.0,"temp":26.08},{"day":359.4,"temp":26.19},{"day":361.0,"temp":25.81},{"day":362.3,"temp":25.25},{"day":363.7,"temp":25.04},{"day":365.3,"temp":25.4},{"day":366.7,"temp":26.08},{"day":367.8,"temp":25.77},{"day":369.1,"temp":24.94},{"day":369.8,"temp":24.83}],
"d2011": [{"day":0.0,"temp":24.97},{"day":1.1,"temp":24.55},{"day":2.0,"temp":24.45},{"day":2.7,"temp":23.72},{"day":3.8,"temp":24.13},{"day":5.2,"temp":24.34},{"day":6.8,"temp":24.76},{"day":8.2,"temp":25.59},{"day":9.5,"temp":26.08},{"day":11.6,"temp":26.16},{"day":12.9,"temp":25.8},{"day":14.3,"temp":26.33},{"day":16.3,"temp":26.53},{"day":18.4,"temp":26.49},{"day":19.3,"temp":26.12},{"day":20.4,"temp":26.22},{"day":21.8,"temp":26.43},{"day":22.8,"temp":26.33},{"day":24.2,"temp":27.79},{"day":25.6,"temp":28.62},{"day":26.9,"temp":28.31},{"day":28.6,"temp":28.04},{"day":31.3,"temp":28.04},{"day":34.0,"temp":28.0},{"day":36.0,"temp":27.68},{"day":37.4,"temp":27.47},{"day":38.1,"temp":26.85},{"day":39.2,"temp":26.95},{"day":40.8,"temp":27.16},{"day":41.9,"temp":26.85},{"day":42.8,"temp":27.06},{"day":43.8,"temp":27.62},{"day":45.5,"temp":27.62},{"day":46.5,"temp":27.37},{"day":48.3,"temp":27.47},{"day":50.3,"temp":27.52},{"day":51.9,"temp":27.47},{"day":53.3,"temp":26.85},{"day":54.4,"temp":26.64},{"day":55.7,"temp":26.78},{"day":57.1,"temp":27.06},{"day":58.5,"temp":27.27},{"day":59.8,"temp":26.95},{"day":61.2,"temp":26.85},{"day":62.5,"temp":26.74},{"day":63.6,"temp":26.33},{"day":64.6,"temp":25.11},{"day":65.9,"temp":24.66},{"day":66.9,"temp":24.86},{"day":68.3,"temp":26.37},{"day":69.6,"temp":26.33},{"day":70.7,"temp":25.91},{"day":71.8,"temp":25.18},{"day":72.7,"temp":24.55},{"day":74.1,"temp":24.45},{"day":75.1,"temp":25.07},{"day":76.2,"temp":25.7},{"day":77.2,"temp":25.07},{"day":78.6,"temp":25.11},{"day":79.5,"temp":25.59},{"day":80.5,"temp":25.18},{"day":81.6,"temp":25.18},{"day":82.7,"temp":24.55},{"day":83.6,"temp":24.49},{"day":84.6,"temp":24.55},{"day":85.7,"temp":24.2},{"day":87.0,"temp":24.13},{"day":87.7,"temp":22.67},{"day":89.1,"temp":23.3},{"day":90.0,"temp":23.99},{"day":91.1,"temp":24.45},{"day":92.2,"temp":23.61},{"day":93.1,"temp":24.03},{"day":93.8,"temp":25.8},{"day":94.9,"temp":25.49},{"day":95.9,"temp":23.99},{"day":96.6,"temp":25.8},{"day":97.9,"temp":26.64},{"day":99.3,"temp":26.53},{"day":100.7,"temp":26.22},{"day":102.0,"temp":23.51},{"day":103.1,"temp":24.55},{"day":104.4,"temp":25.49},{"day":106.1,"temp":25.7},{"day":107.7,"temp":26.01},{"day":109.5,"temp":26.22},{"day":111.2,"temp":26.22},{"day":112.2,"temp":25.7},{"day":113.1,"temp":25.28},{"day":114.2,"temp":23.72},{"day":114.9,"temp":22.4},{"day":116.3,"temp":22.82},{"day":116.9,"temp":23.61},{"day":118.0,"temp":23.09},{"day":119.0,"temp":24.76},{"day":119.9,"temp":24.76},{"day":121.0,"temp":24.97},{"day":122.4,"temp":24.66},{"day":123.7,"temp":24.7},{"day":125.1,"temp":24.76},{"day":126.2,"temp":24.24},{"day":127.1,"temp":22.88},{"day":128.1,"temp":21.63},{"day":128.9,"temp":23.82},{"day":130.3,"temp":24.76},{"day":131.6,"temp":24.86},{"day":133.0,"temp":24.66},{"day":133.9,"temp":23.4},{"day":134.9,"temp":22.67},{"day":136.0,"temp":21.98},{"day":137.1,"temp":21.42},{"day":138.0,"temp":21.94},{"day":139.0,"temp":23.4},{"day":140.7,"temp":23.86},{"day":142.5,"temp":23.92},{"day":143.4,"temp":23.82},{"day":144.4,"temp":23.65}]
},
"resolve": {"scale": {"color": "independent"}, "legend": {"color": "independent"}},
"bounds": "flush",
"spacing": 55,
"vconcat": [
{
 "width": 912, "height": 197,
 "encoding": {
  "x": {"field": "day", "type": "quantitative", "scale": {"domain": [0, 366.5], "nice": false, "zero": false}, "axis": {"values": [0, 30.4167, 60.8333, 91.25, 121.6667, 152.0833, 182.5, 212.9167, 243.3333, 273.75, 304.1667, 334.5833], "labelExpr": "['J','F','M','A','M','J','J','A','S','O','N','D'][round(datum.value/30.4167)]", "title": null}},
  "y": {"field": "temp", "type": "quantitative", "scale": {"domain": [18, 30], "nice": false, "zero": false}, "axis": {"values": [18, 20, 22, 24, 26, 28, 30], "title": "Temperature (oC)"}}
 },
 "layer": [
  {"data": {"name": "d2006"}, "mark": {"type": "line", "strokeWidth": 3}, "encoding": {"color": {"datum": "2006", "type": "nominal", "scale": {"range": ["#ff0000"]}, "legend": {"orient": "none", "legendX": 626, "legendY": 2}}}},
  {"data": {"values": [{"day": 320.4, "temp": 23.3}]}, "mark": {"type": "point", "shape": "M1,0C1,0.296 0.5523,0.5359 0,0.5359C-0.5523,0.5359 -1,0.296 -1,0C-1,-0.296 -0.5523,-0.5359 0,-0.5359C0.5523,-0.5359 1,-0.296 1,0Z", "size": 56169, "filled": false, "stroke": "#137cc3", "strokeWidth": 4.5, "opacity": 1}}
 ]
},
{
 "width": 908, "height": 189,
 "encoding": {
  "x": {"field": "day", "type": "quantitative", "scale": {"domain": [0, 371.2], "nice": false, "zero": false}, "axis": {"values": [0, 30.4167, 60.8333, 91.25, 121.6667, 152.0833, 182.5, 212.9167, 243.3333, 273.75, 304.1667, 334.5833], "labelExpr": "['J','F','M','A','M','J','J','A','S','O','N','D'][round(datum.value/30.4167)]", "title": null}},
  "y": {"field": "temp", "type": "quantitative", "scale": {"domain": [20, 30], "nice": false, "zero": false}, "axis": {"values": [20, 22, 24, 26, 28, 30], "title": "Temperature (oC)"}}
 },
 "layer": [
  {"data": {"name": "d2007"}, "mark": {"type": "line", "strokeWidth": 3}, "encoding": {"color": {"datum": "2007", "type": "nominal", "scale": {"range": ["#ff0000"]}, "legend": {"orient": "none", "legendX": 630, "legendY": 10}}}},
  {"data": {"values": [{"day": 39.0, "temp": 25.08}]}, "mark": {"type": "point", "shape": "M1,0C1,0.4743 0.5523,0.8587 0,0.8587C-0.5523,0.8587 -1,0.4743 -1,0C-1,-0.4743 -0.5523,-0.8587 0,-0.8587C0.5523,-0.8587 1,-0.4743 1,0Z", "size": 25824, "filled": false, "stroke": "#137cc3", "strokeWidth": 4.5, "opacity": 1}}
 ]
},
{
 "width": 908, "height": 184,
 "encoding": {
  "x": {"field": "day", "type": "quantitative", "scale": {"domain": [0, 369.9], "nice": false, "zero": false}, "axis": {"values": [0, 30.4167, 60.8333, 91.25, 121.6667, 152.0833, 182.5, 212.9167, 243.3333, 273.75, 304.1667, 334.5833], "labelExpr": "['J','F','M','A','M','J','J','A','S','O','N','D'][round(datum.value/30.4167)]", "title": null}},
  "y": {"field": "temp", "type": "quantitative", "scale": {"domain": [18, 30], "nice": false, "zero": false}, "axis": {"values": [18, 20, 22, 24, 26, 28, 30], "title": "Temperature (oC)"}}
 },
 "layer": [
  {"data": {"name": "d2008"}, "mark": {"type": "line", "strokeWidth": 3}, "encoding": {"color": {"datum": "2008", "type": "nominal", "scale": {"range": ["#ff0000"]}, "legend": {"orient": "none", "legendX": 628, "legendY": 9}}}},
  {"data": {"values": [{"day": 332.3, "temp": 22.57}]}, "mark": {"type": "point", "shape": "M1,0C1,0.3366 0.5523,0.6095 0,0.6095C-0.5523,0.6095 -1,0.3366 -1,0C-1,-0.3366 -0.5523,-0.6095 0,-0.6095C0.5523,-0.6095 1,-0.3366 1,0Z", "size": 44100, "filled": false, "stroke": "#137cc3", "strokeWidth": 4.5, "opacity": 1}}
 ]
},
{
 "width": 904, "height": 192,
 "encoding": {
  "x": {"field": "day", "type": "quantitative", "scale": {"domain": [0, 369.6], "nice": false, "zero": false}, "axis": {"values": [0, 30.4167, 60.8333, 91.25, 121.6667, 152.0833, 182.5, 212.9167, 243.3333, 273.75, 304.1667, 334.5833], "labelExpr": "['J','F','M','A','M','J','J','A','S','O','N','D'][round(datum.value/30.4167)]", "title": null}},
  "y": {"field": "temp", "type": "quantitative", "scale": {"domain": [18, 30], "nice": false, "zero": false}, "axis": {"values": [18, 20, 22, 24, 26, 28, 30], "title": "Temperature (oC)"}}
 },
 "layer": [
  {"data": {"name": "d2009"}, "mark": {"type": "line", "strokeWidth": 3}, "encoding": {"color": {"datum": "2009", "type": "nominal", "scale": {"range": ["#ff0000"]}, "legend": {"orient": "none", "legendX": 630, "legendY": 5}}}},
  {"data": {"values": [{"day": 51.3, "temp": 24.96}]}, "mark": {"type": "point", "shape": "M1,0C1,0.3438 0.5523,0.6225 0,0.6225C-0.5523,0.6225 -1,0.3438 -1,0C-1,-0.3438 -0.5523,-0.6225 0,-0.6225C0.5523,-0.6225 1,-0.3438 1,0Z", "size": 40966, "filled": false, "stroke": "#137cc3", "strokeWidth": 4.5, "opacity": 1}},
  {"data": {"values": [{"day": 314.4, "temp": 21.82}]}, "mark": {"type": "point", "shape": "M1,0C1,0.2195 0.5523,0.3974 0,0.3974C-0.5523,0.3974 -1,0.2195 -1,0C-1,-0.2195 -0.5523,-0.3974 0,-0.3974C0.5523,-0.3974 1,-0.2195 1,0Z", "size": 73441, "filled": false, "stroke": "#137cc3", "strokeWidth": 4.5, "opacity": 1}}
 ]
},
{
 "width": 911, "height": 192,
 "encoding": {
  "x": {"field": "day", "type": "quantitative", "scale": {"domain": [0, 369.8], "nice": false, "zero": false}, "axis": {"values": [0, 30.4167, 60.8333, 91.25, 121.6667, 152.0833, 182.5, 212.9167, 243.3333, 273.75, 304.1667, 334.5833], "labelExpr": "['J','F','M','A','M','J','J','A','S','O','N','D'][round(datum.value/30.4167)]", "title": null}},
  "y": {"field": "temp", "type": "quantitative", "scale": {"domain": [18, 30], "nice": false, "zero": false}, "axis": {"values": [18, 20, 22, 24, 26, 28, 30], "title": "Temperature (oC)"}}
 },
 "layer": [
  {"data": {"name": "d2010"}, "mark": {"type": "line", "strokeWidth": 3}, "encoding": {"color": {"datum": "2010", "type": "nominal", "scale": {"range": ["#ff0000"]}, "legend": {"orient": "none", "legendX": 636, "legendY": 4}}}},
  {"data": {"values": [{"day": 70.9, "temp": 24.42}]}, "mark": {"type": "point", "shape": "M1,0C1,0.329 0.5523,0.5957 0,0.5957C-0.5523,0.5957 -1,0.329 -1,0C-1,-0.329 -0.5523,-0.5957 0,-0.5957C0.5523,-0.5957 1,-0.329 1,0Z", "size": 45241, "filled": false, "stroke": "#137cc3", "strokeWidth": 4.5, "opacity": 1}},
  {"data": {"values": [{"day": 325.3, "temp": 23.07}]}, "mark": {"type": "point", "shape": "M1,0C1,0.3366 0.5523,0.6095 0,0.6095C-0.5523,0.6095 -1,0.3366 -1,0C-1,-0.3366 -0.5523,-0.6095 0,-0.6095C0.5523,-0.6095 1,-0.3366 1,0Z", "size": 44100, "filled": false, "stroke": "#137cc3", "strokeWidth": 4.5, "opacity": 1}}
 ]
},
{
 "width": 912, "height": 190,
 "encoding": {
  "x": {"field": "day", "type": "quantitative", "scale": {"domain": [0, 371.2], "nice": false, "zero": false}, "axis": {"values": [0, 30.4167, 60.8333, 91.25, 121.6667, 152.0833, 182.5, 212.9167, 243.3333, 273.75, 304.1667, 334.5833], "labelExpr": "['J','F','M','A','M','J','J','A','S','O','N','D'][round(datum.value/30.4167)]", "title": "Time (days)", "titlePadding": 4}},
  "y": {"field": "temp", "type": "quantitative", "scale": {"domain": [18, 30], "nice": false, "zero": false}, "axis": {"values": [18, 20, 22, 24, 26, 28, 30], "title": "Temperature (oC)"}}
 },
 "layer": [
  {"data": {"name": "d2011"}, "mark": {"type": "line", "strokeWidth": 3}, "encoding": {"color": {"datum": "2011", "type": "nominal", "scale": {"range": ["#ff0000"]}, "legend": {"orient": "none", "legendX": 638, "legendY": 5}}}},
  {"data": {"values": [{"day": 115.4, "temp": 24.66}]}, "mark": {"type": "point", "shape": "M1,0C1,0.3878 0.5523,0.7021 0,0.7021C-0.5523,0.7021 -1,0.3878 -1,0C-1,-0.3878 -0.5523,-0.7021 0,-0.7021C0.5523,-0.7021 1,-0.3878 1,0Z", "size": 33233, "filled": false, "stroke": "#137cc3", "strokeWidth": 4.5, "opacity": 1}}
 ]
}
]
}
